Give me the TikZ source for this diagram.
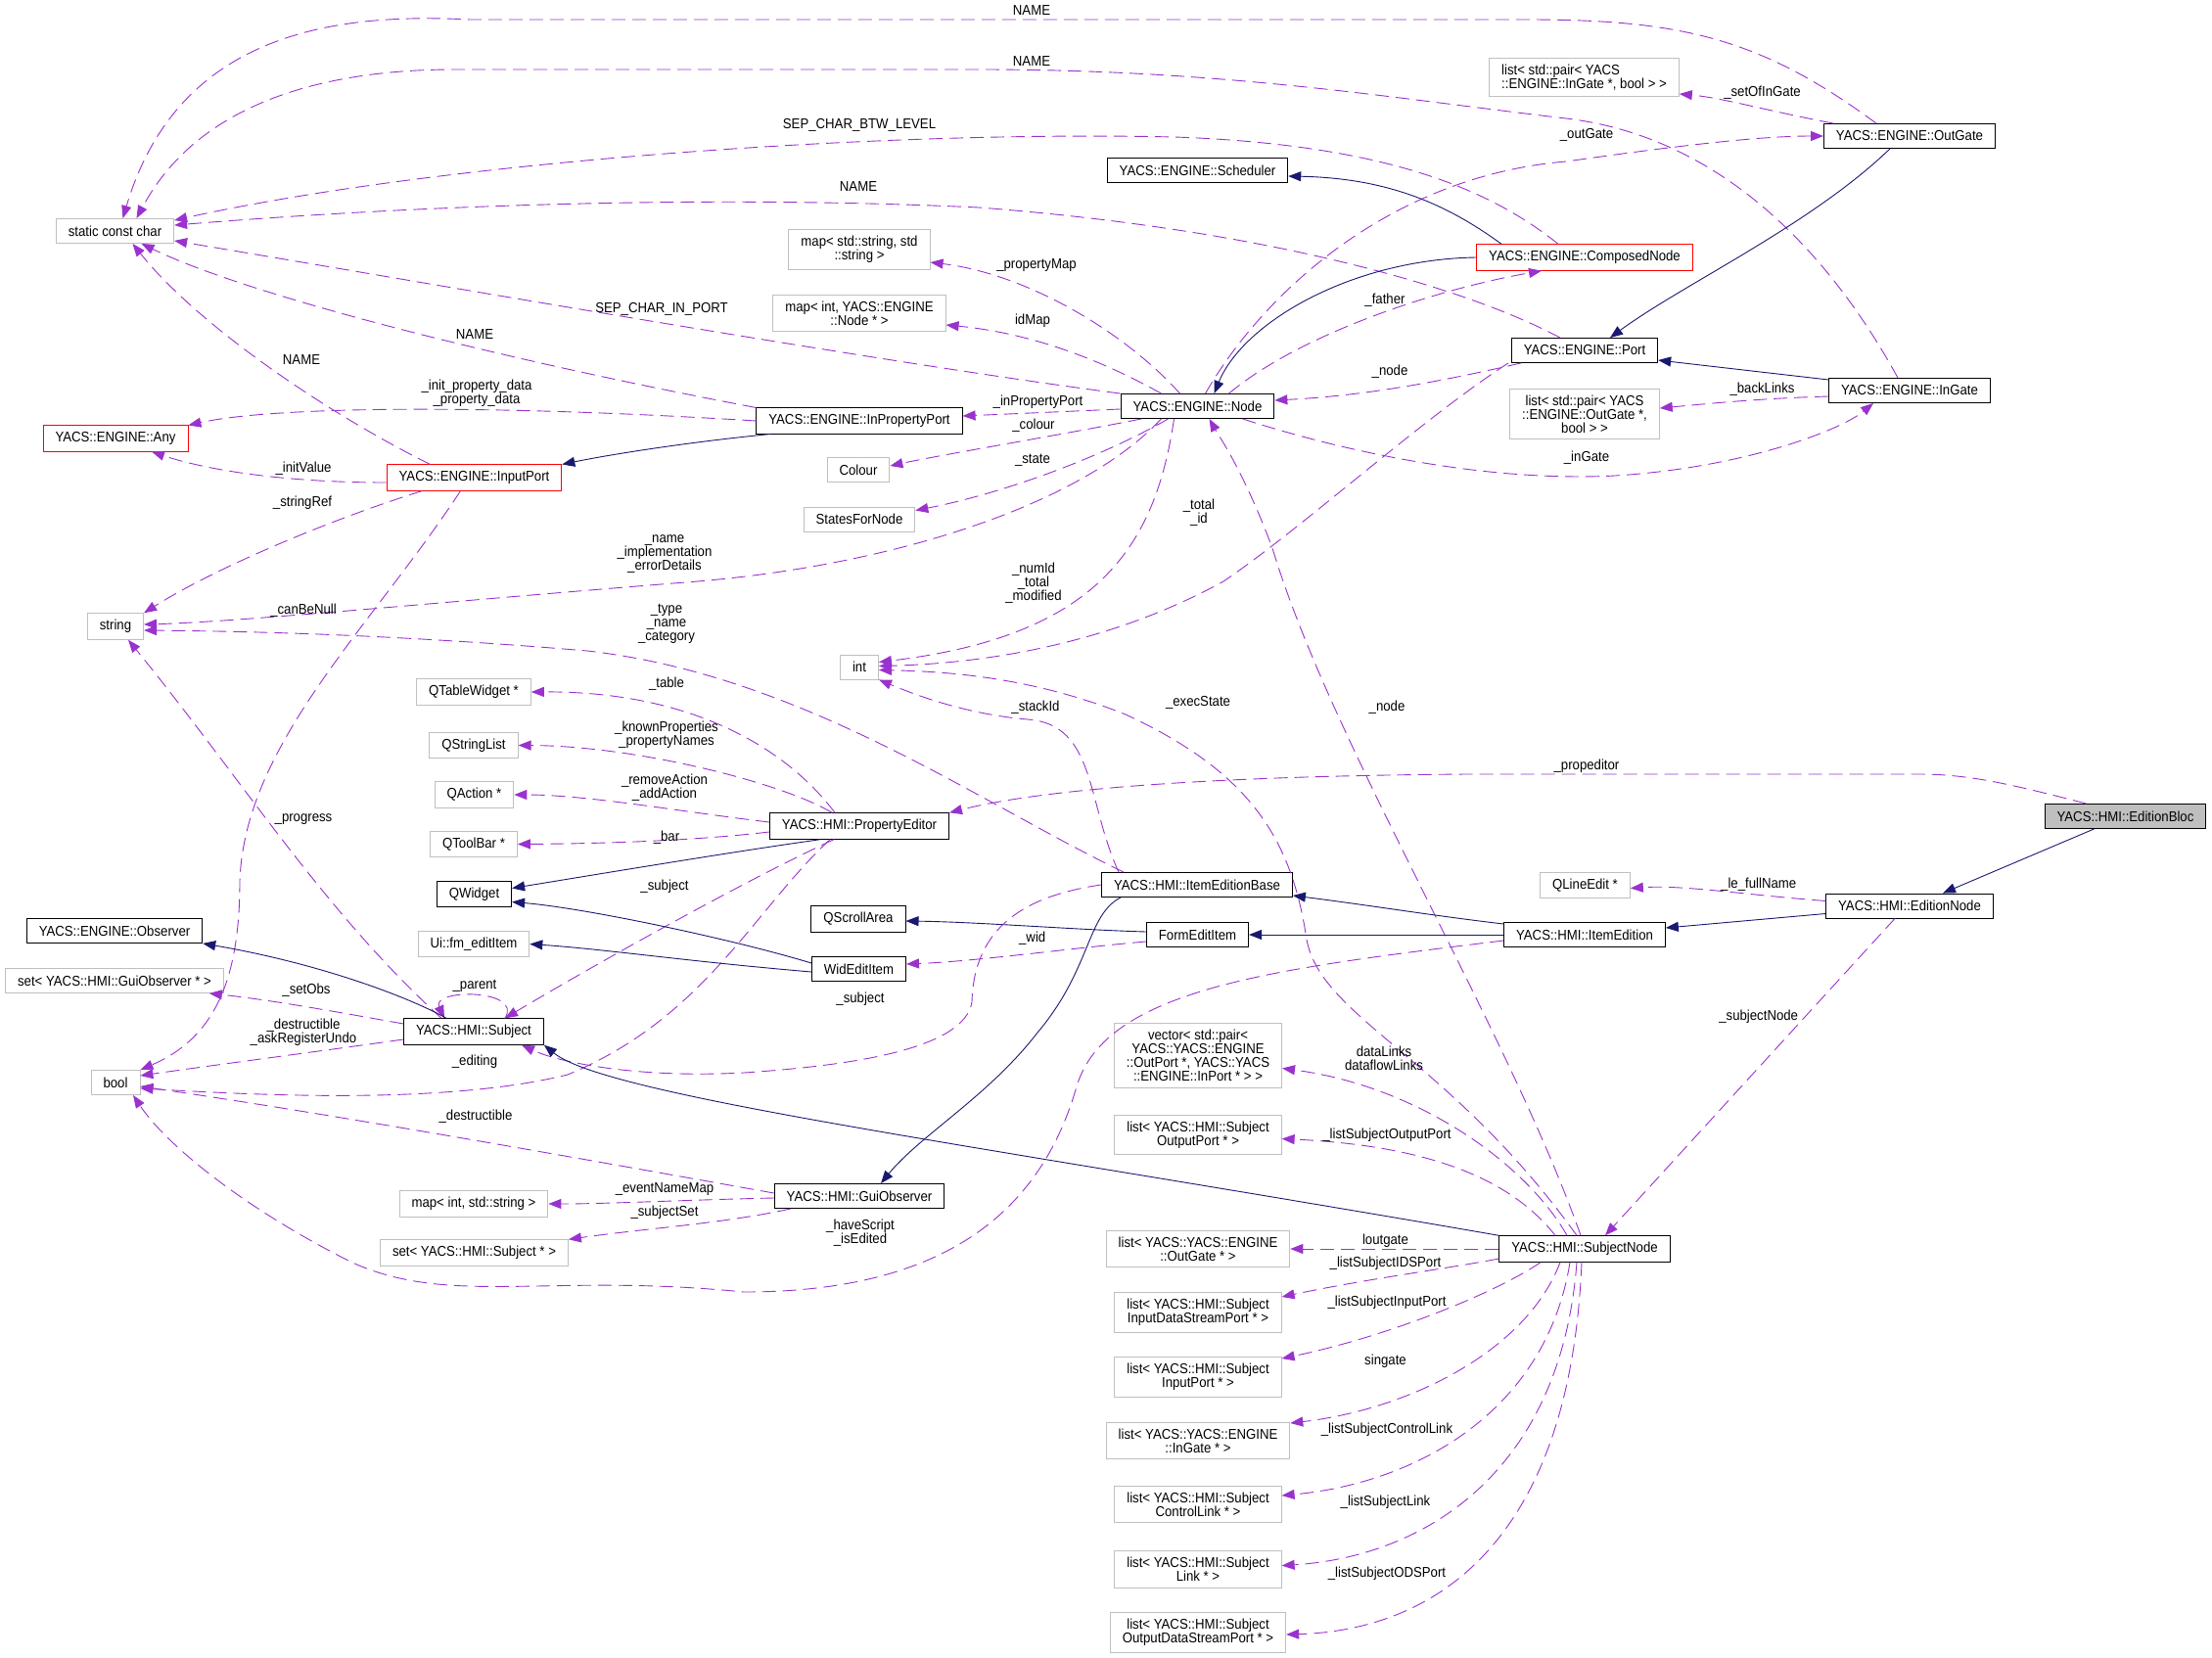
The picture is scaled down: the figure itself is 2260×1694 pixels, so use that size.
\documentclass[tikz,border=0pt]{standalone}
\usepackage{fontspec}
\setmainfont[FakeStretch=0.91]{Liberation Sans}
\usetikzlibrary{arrows.meta}

\definecolor{edgepurple}{HTML}{9A32CD}
\definecolor{edgenavy}{HTML}{191970}
\definecolor{extgray}{HTML}{BFBFBF}

\begin{document}
\begin{tikzpicture}[
    x=1pt, y=-1pt,
    font=\fontsize{14.5}{14}\selectfont,
    klass/.style={draw=black, fill=white, line width=0.9pt, inner xsep=12.5pt, inner ysep=6.5pt, minimum height=25pt, align=center},
    external/.style={klass, draw=extgray},
    broken/.style={klass, draw=red},
    current/.style={klass, fill=extgray},
    lbl/.style={inner sep=0pt, align=center},
    member/.style={-{Triangle[length=13pt,width=10pt]}, draw=edgepurple, line width=0.9pt, dash pattern=on 14pt off 7pt},
    inherit/.style={-{Triangle[length=13pt,width=10pt]}, draw=edgenavy, line width=0.9pt}
]
    \useasboundingbox (0,0) rectangle (2260,1694);

    % Nodes
    \node[external] (scc) at (117.5,236) {static const char};
    \node[broken] (any) at (118,448) {YACS::ENGINE::Any};
    \node[broken] (inport) at (484.5,488) {YACS::ENGINE::InputPort};
    \node[external] (str) at (118,640) {string};
    \node[external] (bool) at (118,1106) {bool};
    \node[klass] (observer) at (117,951) {YACS::ENGINE::Observer};
    \node[external] (setguiobs) at (117,1002) {set< YACS::HMI::GuiObserver * >};
    \node[klass] (subject) at (484,1054) {YACS::HMI::Subject};
    \node[external] (qtable) at (484,707) {QTableWidget *};
    \node[external] (qstrlist) at (484,761.5) {QStringList};
    \node[external] (qaction) at (484.5,812) {QAction *};
    \node[external] (qtoolbar) at (484,862.5) {QToolBar *};
    \node[klass] (qwidget) at (484.5,913.5) {QWidget};
    \node[external] (uiedit) at (484,964.5) {Ui::fm\_editItem};
    \node[klass] (inpropport) at (878,430) {YACS::ENGINE::InPropertyPort};
    \node[klass] (node) at (1223.5,415) {YACS::ENGINE::Node};
    \node[external] (colour) at (877,480) {Colour};
    \node[external] (states) at (878,530.5) {StatesForNode};
    \node[external] (idmap) at (878,320) {map< int, YACS::ENGINE\\::Node * >};
    \node[external] (propmap) at (878,255) {map< std::string, std\\::string >};
    \node[klass] (scheduler) at (1223.5,174) {YACS::ENGINE::Scheduler};
    \node[broken] (composed) at (1619,263) {YACS::ENGINE::ComposedNode};
    \node[klass] (outgate) at (1951,139) {YACS::ENGINE::OutGate};
    \node[external, align=left] (setofingate) at (1618.5,79) {list< std::pair< YACS\\::ENGINE::InGate *, bool > >};
    \node[klass] (port) at (1619,358) {YACS::ENGINE::Port};
    \node[klass] (ingate) at (1951,399) {YACS::ENGINE::InGate};
    \node[external] (backlinks) at (1619,423) {list< std::pair< YACS\\::ENGINE::OutGate *,\\bool > >};
    \node[external] (int) at (878,681.5) {int};
    \node[klass] (propeditor) at (878,844) {YACS::HMI::PropertyEditor};
    \node[klass] (itembase) at (1223,904) {YACS::HMI::ItemEditionBase};
    \node[klass] (qscroll) at (877,939) {QScrollArea};
    \node[klass] (formedit) at (1223.5,955) {FormEditItem};
    \node[klass] (widedit) at (877.5,990) {WidEditItem};
    \node[external] (datalinks) at (1224,1078.5) {vector< std::pair<\\YACS::YACS::ENGINE\\::OutPort *, YACS::YACS\\::ENGINE::InPort * > >};
    \node[current] (bloc) at (2171.5,834) {YACS::HMI::EditionBloc};
    \node[klass] (editnode) at (1951,925.5) {YACS::HMI::EditionNode};
    \node[external] (qlineedit) at (1619.5,904.5) {QLineEdit *};
    \node[klass] (itemedit) at (1619,955) {YACS::HMI::ItemEdition};
    \node[klass] (guiobs) at (878,1222) {YACS::HMI::GuiObserver};
    \node[external] (evmap) at (484,1230) {map< int, std::string >};
    \node[external] (subjset) at (484.5,1280) {set< YACS::HMI::Subject * >};
    \node[klass] (subjnode) at (1619,1276) {YACS::HMI::SubjectNode};
    \node[external] (lsop) at (1224,1159.5) {list< YACS::HMI::Subject\\OutputPort * >};
    \node[external] (lsog) at (1224,1276) {list< YACS::YACS::ENGINE\\::OutGate * >};
    \node[external] (lsids) at (1224,1341) {list< YACS::HMI::Subject\\InputDataStreamPort * >};
    \node[external] (lsip) at (1224,1407) {list< YACS::HMI::Subject\\InputPort * >};
    \node[external] (lsig) at (1224,1472) {list< YACS::YACS::ENGINE\\::InGate * >};
    \node[external] (lscl) at (1224,1537) {list< YACS::HMI::Subject\\ControlLink * >};
    \node[external] (lsl) at (1224,1603.6) {list< YACS::HMI::Subject\\Link * >};
    \node[external] (lsods) at (1224,1668) {list< YACS::HMI::Subject\\OutputDataStreamPort * >};

    % Links to static const char
    \draw[member] ([xshift=-34pt]outgate.north) .. controls (1800,40) and (1720,20) .. (1560,20) -- (480,20) .. controls (330,12) and (180,40) .. ([xshift=8pt]scc.north);
    \draw[member] ([xshift=-12pt]ingate.north) .. controls (1870,260) and (1760,140) .. (1600,121) .. controls (1420,100) and (1250,71) .. (1000,71) -- (460,71) .. controls (320,72) and (200,110) .. ([xshift=22pt]scc.north);
    \draw[member] ([xshift=-27pt]composed.north) .. controls (1530,200) and (1430,148) .. (1200,140) .. controls (900,133) and (450,165) .. ([yshift=-2pt]scc.north east);
    \draw[member] ([xshift=-25pt]port.north) .. controls (1500,295) and (1300,235) .. (1000,212) .. controls (700,198) and (400,212) .. ([yshift=-7pt]scc.north east);
    \draw[member] (node.north west) .. controls (900,370) and (500,300) .. ([yshift=3pt]scc.south east);
    \draw[member] (inpropport.north west) .. controls (500,365) and (250,300) .. ([xshift=27pt]scc.south);
    \draw[member] ([xshift=-45pt]inport.north) .. controls (330,420) and (200,330) .. ([xshift=18pt]scc.south);

    % Links to Any, string, bool
    \draw[member] (inpropport.west) .. controls (500,413) and (280,415) .. (any.north east);
    \draw[member] ([yshift=-5pt]inport.west) .. controls (290,493) and (210,480) .. ([xshift=37pt]any.south);
    \draw[member] ([xshift=-53pt]inport.south) .. controls (340,530) and (220,580) .. (str.north east);
    \draw[member] ([xshift=-37pt]node.south) .. controls (1100,520) and (900,580) .. (700,595) .. controls (450,615) and (250,635) .. ([yshift=2pt]str.east);
    \draw[member] ([xshift=-75pt]itembase.north) .. controls (1000,820) and (820,690) .. (600,665) .. controls (400,648) and (250,645) .. ([yshift=-4pt]str.east);
    \draw[member] ([xshift=-33pt]subject.north) .. controls (330,930) and (250,800) .. ([xshift=13pt]str.south);
    \draw[member] ([xshift=-14pt]inport.south) .. controls (380,640) and (250,760) .. (245,900) .. controls (245,1000) and (220,1060) .. (bool.north east);

    % PropertyEditor
    \draw[member] ([xshift=-25pt]propeditor.north) .. controls (800,760) and (700,706) .. (qtable.east);
    \draw[member] ([xshift=-28pt]propeditor.north) .. controls (800,800) and (650,762) .. (qstrlist.east);
    \draw[member] ([yshift=4pt]propeditor.west) .. controls (700,830) and (600,812) .. (qaction.east);
    \draw[member] ([yshift=-6pt]propeditor.west) .. controls (700,860) and (600,862) .. (qtoolbar.east);
    \draw[inherit] ([xshift=-40pt]propeditor.south) .. controls (750,870) and (600,895) .. ([yshift=6pt]qwidget.east);
    \draw[member] ([xshift=-26pt]propeditor.south) .. controls (760,900) and (600,990) .. ([xshift=32pt]subject.north);
    \draw[member] ([xshift=-30pt]propeditor.south) .. controls (770,930) and (720,1040) .. (580,1098) .. controls (450,1130) and (250,1118) .. ([yshift=-6pt]bool.east);

    % Widgets
    \draw[inherit] ([yshift=6pt]widedit.west) .. controls (750,960) and (600,928) .. ([yshift=-8pt]qwidget.east);
    \draw[inherit] ([yshift=-3pt]widedit.west) .. controls (700,982) and (620,970) .. (uiedit.east);
    \draw[inherit] ([yshift=3pt]formedit.west) .. controls (1100,950) and (1000,942) .. ([yshift=-2pt]qscroll.east);
    \draw[member] ([yshift=-7pt]formedit.west) .. controls (1100,968) and (1000,982) .. ([yshift=5pt]widedit.east);

    % Subject
    \draw[member] ([xshift=32pt]subject.north) .. controls (535,1010) and (440,1010) .. ([xshift=-30pt]subject.north);
    \draw[member] ([yshift=8pt]subject.west) .. controls (350,1035) and (280,1022) .. ([xshift=-15pt]setguiobs.south east);
    \draw[member] ([yshift=-8pt]subject.west) .. controls (320,1075) and (220,1088) .. ([yshift=7pt]bool.east);
    \draw[inherit] ([xshift=-28pt]subject.north) .. controls (420,1020) and (330,985) .. (observer.south east);

    % GuiObserver
    \draw[member] ([yshift=3pt]guiobs.west) .. controls (600,1185) and (350,1140) .. ([yshift=-4pt]bool.east);
    \draw[member] ([yshift=-2pt]guiobs.west) .. controls (700,1226) and (620,1230) .. (evmap.east);
    \draw[member] ([xshift=-70pt]guiobs.south) .. controls (740,1250) and (660,1255) .. (subjset.north east);

    % ItemEdition, ItemEditionBase
    \draw[member] ([yshift=-6pt]itemedit.west) .. controls (1300,990) and (1130,1010) .. (1100,1110) .. controls (1060,1250) and (950,1320) .. (760,1320) .. controls (560,1300) and (460,1335) .. (360,1290) .. controls (250,1235) and (170,1170) .. ([xshift=18pt]bool.south);
    \draw[member] (itembase.west) .. controls (1050,915) and (995,945) .. (993,1024) .. controls (985,1070) and (880,1088) .. (760,1096) .. controls (650,1102) and (570,1085) .. ([xshift=49pt]subject.south);
    \draw[member] ([xshift=-80pt]itembase.north) .. controls (1110,820) and (1120,740) .. (1050,735) .. controls (990,730) and (940,712) .. (int.south east);
    \draw[inherit] ([xshift=-78pt]itembase.south) .. controls (1110,935) and (1115,990) .. (1060,1055) .. controls (1010,1120) and (940,1160) .. ([xshift=22pt]guiobs.north);

    % Node
    \draw[member] ([xshift=-24pt]node.south) .. controls (1180,560) and (1120,650) .. ([yshift=5pt]int.east);
    \draw[member] ([xshift=-78pt]port.south) .. controls (1450,430) and (1330,540) .. (1250,594) .. controls (1130,660) and (1000,678) .. ([yshift=1pt]int.east);
    \draw[member] ([xshift=-8pt]subjnode.north) .. controls (1480,1080) and (1350,1040) .. (1335,960) .. controls (1320,860) and (1280,790) .. (1150,730) .. controls (1050,690) and (960,686) .. ([yshift=-3pt]int.east);
    \draw[member] ([xshift=-4pt]subjnode.north) .. controls (1540,1050) and (1360,760) .. (1300,560) .. controls (1270,480) and (1245,445) .. ([xshift=12pt]node.south);
    \draw[member] ([xshift=-18pt]node.north) .. controls (1150,340) and (1050,280) .. ([yshift=-13pt]propmap.east);
    \draw[member] ([xshift=-37pt]node.north) .. controls (1120,365) and (1050,340) .. ([yshift=-12pt]idmap.east);
    \draw[member] ([yshift=-3pt]node.west) -- ([yshift=5pt]inpropport.east);
    \draw[member] ([xshift=-57pt]node.south) .. controls (1080,445) and (960,465) .. ([yshift=4pt]colour.east);
    \draw[member] ([xshift=-30pt]node.south) .. controls (1120,470) and (1020,505) .. ([yshift=9pt]states.east);
    \draw[member] ([xshift=32pt]node.north) .. controls (1330,340) and (1470,295) .. ([xshift=-44pt]composed.south);
    \draw[member] ([xshift=-65pt]port.south) .. controls (1450,395) and (1380,405) .. ([yshift=6pt]node.east);
    \draw[member] ([xshift=8pt]node.north) .. controls (1290,300) and (1420,180) .. (1600,165) .. controls (1720,148) and (1800,139) .. (outgate.west);
    \draw[member] ([xshift=46pt]node.south) .. controls (1400,470) and (1540,492) .. (1650,486) .. controls (1780,478) and (1880,440) .. ([xshift=-37pt]ingate.south);

    % Engine inheritance
    \draw[inherit] ([xshift=-85pt]composed.north) .. controls (1480,210) and (1420,182) .. ([yshift=-6pt]scheduler.east);
    \draw[inherit] (composed.west) .. controls (1380,265) and (1270,330) .. ([xshift=17pt]node.north);
    \draw[inherit] ([xshift=-20pt]outgate.south) .. controls (1850,230) and (1720,290) .. ([xshift=26pt]port.north);
    \draw[inherit] ([yshift=11pt]ingate.west) -- ([yshift=-10pt]port.east);
    \draw[inherit] ([xshift=-91pt]inpropport.south) .. controls (700,452) and (620,465) .. (inport.north east);
    \draw[member] ([xshift=-78pt]outgate.north) .. controls (1800,112) and (1760,100) .. ([yshift=-17pt]setofingate.east);
    \draw[member] ([yshift=-6pt]ingate.west) .. controls (1800,407) and (1750,412) .. ([yshift=6pt]backlinks.east);

    % Edition classes
    \draw[member] ([xshift=-40pt]bloc.north) .. controls (2050,800) and (2010,791) .. (1960,791) -- (1500,791) .. controls (1200,793) and (1050,810) .. (propeditor.north east);
    \draw[inherit] ([xshift=-32pt]bloc.south) -- ([xshift=34pt]editnode.north);
    \draw[member] ([yshift=5pt]editnode.west) .. controls (1780,914) and (1720,904) .. ([yshift=-3pt]qlineedit.east);
    \draw[inherit] ([yshift=-8pt]editnode.west) -- ([yshift=7pt]itemedit.east);
    \draw[member] ([xshift=-15pt]editnode.south) -- ([xshift=21pt]subjnode.north);
    \draw[inherit] (itemedit.west) -- (formedit.east);
    \draw[inherit] ([yshift=11pt]itemedit.west) .. controls (1460,935) and (1400,925) .. ([yshift=-11pt]itembase.east);

    % SubjectNode
    \draw[inherit] (subjnode.north west) .. controls (1000,1170) and (620,1120) .. (subject.south east);
    \draw[member] ([xshift=-18pt]subjnode.north) .. controls (1560,1190) and (1450,1110) .. ([yshift=-13pt]datalinks.east);
    \draw[member] ([xshift=-30pt]subjnode.north) .. controls (1540,1200) and (1450,1170) .. ([yshift=-4pt]lsop.east);
    \draw[member] (subjnode.west) -- (lsog.east);
    \draw[member] ([yshift=-10pt]subjnode.west) .. controls (1480,1296) and (1400,1306) .. ([yshift=16pt]lsids.east);
    \draw[member] ([xshift=-45pt]subjnode.south) .. controls (1530,1320) and (1420,1365) .. ([yshift=19pt]lsip.east);
    \draw[member] ([xshift=-25pt]subjnode.south) .. controls (1560,1380) and (1440,1440) .. ([yshift=18pt]lsig.east);
    \draw[member] ([xshift=-15pt]subjnode.south) .. controls (1580,1440) and (1450,1515) .. ([yshift=9pt]lscl.east);
    \draw[member] ([xshift=-8pt]subjnode.south) .. controls (1595,1500) and (1460,1590) .. ([yshift=4pt]lsl.east);
    \draw[member] ([xshift=-3pt]subjnode.south) .. controls (1605,1560) and (1480,1665) .. ([yshift=-2pt]lsods.east);

    % Labels
    \node[lbl] (l-name-a) at (1054,11) {NAME};
    \node[lbl] (l-name-b) at (1054,62.5) {NAME};
    \node[lbl] (l-sepbtw) at (878,128) {SEP\_CHAR\_BTW\_LEVEL};
    \node[lbl] (l-name-c) at (877,191) {NAME};
    \node[lbl] (l-sepin) at (676,316) {SEP\_CHAR\_IN\_PORT};
    \node[lbl] (l-name-d) at (485,342) {NAME};
    \node[lbl] (l-name-e) at (308,368) {NAME};
    \node[lbl] (l-initprop) at (487,402) {\_init\_property\_data\\\_property\_data};
    \node[lbl] (l-initval) at (310,478.6) {\_initValue};
    \node[lbl] (l-strref) at (309,514) {\_stringRef};
    \node[lbl] (l-canbenull) at (310,623.6) {\_canBeNull};
    \node[lbl] (l-nodename) at (679,566) {\_name\\\_implementation\\\_errorDetails};
    \node[lbl] (l-type) at (681,637) {\_type\\\_name\\\_category};
    \node[lbl] (l-progress) at (310,837) {\_progress};
    \node[lbl] (l-table) at (681,699) {\_table};
    \node[lbl] (l-known) at (681,751) {\_knownProperties\\\_propertyNames};
    \node[lbl] (l-actions) at (679,805) {\_removeAction\\\_addAction};
    \node[lbl] (l-bar) at (681,856) {\_bar};
    \node[lbl] (l-subject-a) at (679,906) {\_subject};
    \node[lbl] (l-parent) at (485,1007.5) {\_parent};
    \node[lbl] (l-setobs) at (313,1012) {\_setObs};
    \node[lbl] (l-destr-a) at (310,1055) {\_destructible\\\_askRegisterUndo};
    \node[lbl] (l-editing) at (485,1085) {\_editing};
    \node[lbl] (l-destr-b) at (486,1140.5) {\_destructible};
    \node[lbl] (l-evmap) at (679,1215.5) {\_eventNameMap};
    \node[lbl] (l-subjset) at (679,1239) {\_subjectSet};
    \node[lbl] (l-script) at (879,1260) {\_haveScript\\\_isEdited};
    \node[lbl] (l-subject-b) at (879,1021) {\_subject};
    \node[lbl] (l-stackid) at (1058,723) {\_stackId};
    \node[lbl] (l-numid) at (1056,596) {\_numId\\\_total\\\_modified};
    \node[lbl] (l-total) at (1225,524) {\_total\\\_id};
    \node[lbl] (l-exec) at (1224,718) {\_execState};
    \node[lbl] (l-node-a) at (1417,723) {\_node};
    \node[lbl] (l-propmap) at (1059,271) {\_propertyMap};
    \node[lbl] (l-idmap) at (1055,328) {idMap};
    \node[lbl] (l-inprop) at (1060.5,410.7) {\_inPropertyPort};
    \node[lbl] (l-colour) at (1056,434.6) {\_colour};
    \node[lbl] (l-state) at (1055,470) {\_state};
    \node[lbl] (l-father) at (1415,307) {\_father};
    \node[lbl] (l-node-b) at (1420,380) {\_node};
    \node[lbl] (l-outgate) at (1621,138) {\_outGate};
    \node[lbl] (l-ingate) at (1621,468) {\_inGate};
    \node[lbl] (l-setof) at (1800.5,94.6) {\_setOfInGate};
    \node[lbl] (l-back) at (1800.5,398) {\_backLinks};
    \node[lbl] (l-propedit) at (1621,782.5) {\_propeditor};
    \node[lbl] (l-fullname) at (1796.7,903.6) {\_le\_fullName};
    \node[lbl] (l-subjnode) at (1796.7,1039) {\_subjectNode};
    \node[lbl] (l-wid) at (1054.7,959) {\_wid};
    \node[lbl] (l-datalinks) at (1414,1081) {dataLinks\\dataflowLinks};
    \node[lbl] (l-lsop) at (1417,1159.5) {\_listSubjectOutputPort};
    \node[lbl] (l-lsog) at (1415.5,1267.4) {loutgate};
    \node[lbl] (l-lsids) at (1415.5,1290.5) {\_listSubjectIDSPort};
    \node[lbl] (l-lsip) at (1417,1331) {\_listSubjectInputPort};
    \node[lbl] (l-lsig) at (1415.5,1391) {singate};
    \node[lbl] (l-lscl) at (1417,1460.6) {\_listSubjectControlLink};
    \node[lbl] (l-lsl) at (1415.5,1534.5) {\_listSubjectLink};
    \node[lbl] (l-lsods) at (1417,1607.6) {\_listSubjectODSPort};
\end{tikzpicture}
\end{document}
